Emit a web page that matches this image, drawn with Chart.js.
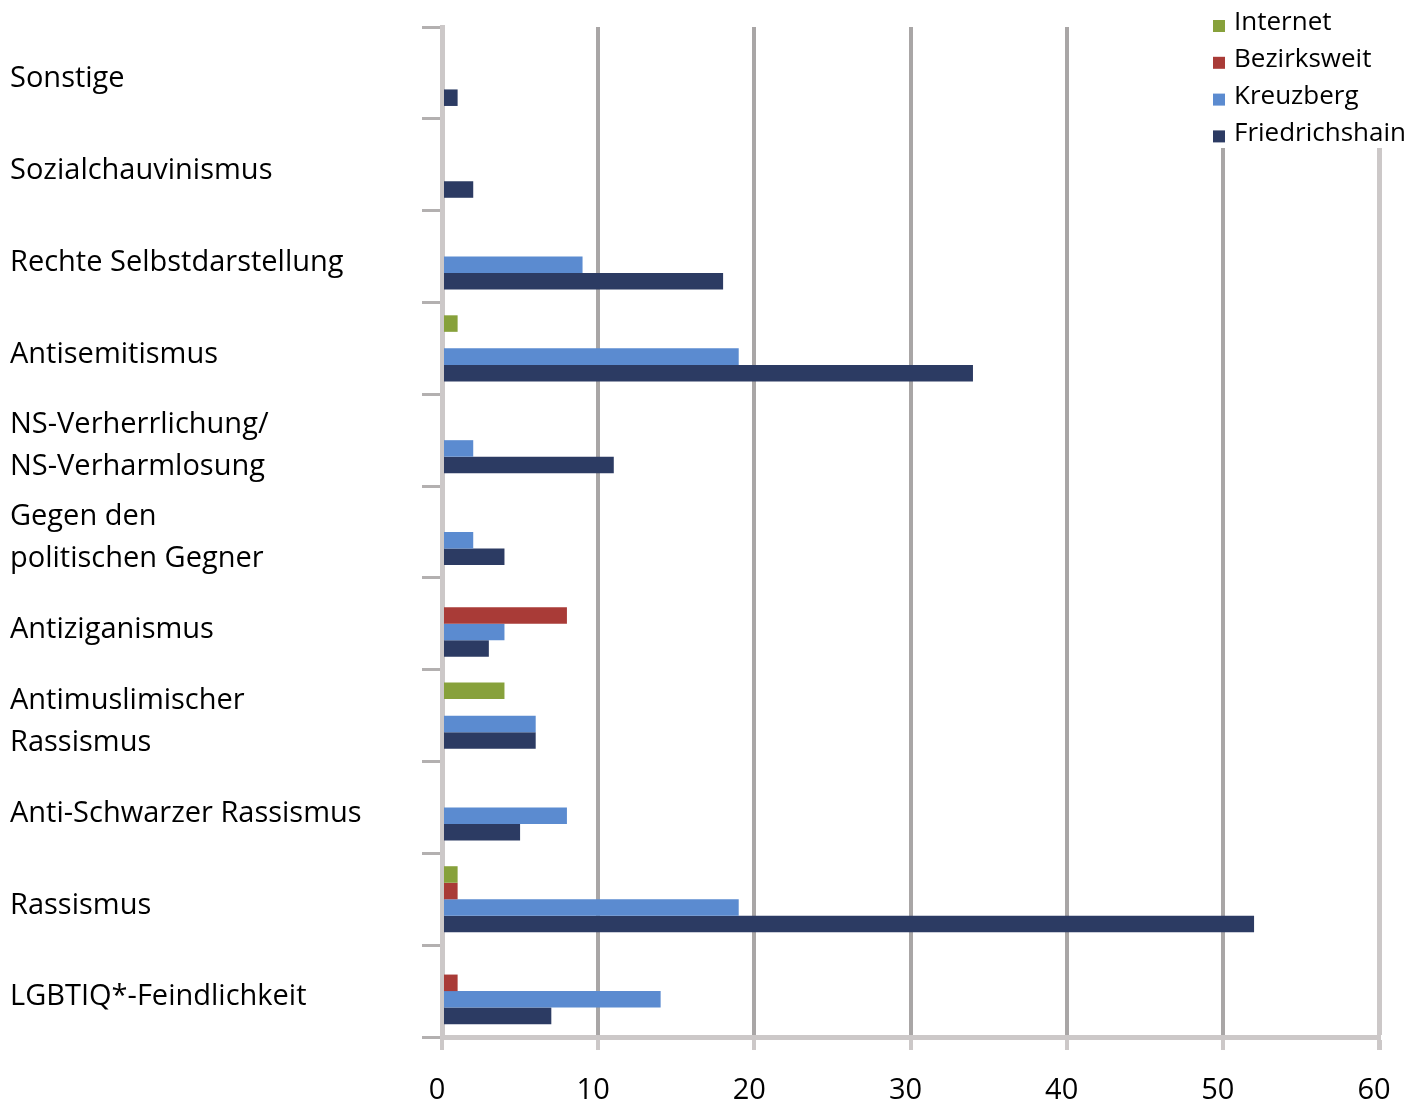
<!DOCTYPE html>
<html lang="de">
<head>
<meta charset="utf-8">
<title>Vorfälle nach Motiv</title>
<script src="https://cdn.jsdelivr.net/npm/chart.js@4"></script>
<style>
  html, body { margin: 0; padding: 0; background: #fff; }
  #wrap { width: 1422px; height: 1108px; }
</style>
</head>
<body>
<div id="wrap"><canvas id="motive" width="1422" height="1108"></canvas></div>
<script>
var categories = [
    'Sonstige',
    'Sozialchauvinismus',
    'Rechte Selbstdarstellung',
    'Antisemitismus',
    ['NS-Verherrlichung/', 'NS-Verharmlosung'],
    ['Gegen den', 'politischen Gegner'],
    'Antiziganismus',
    ['Antimuslimischer', 'Rassismus'],
    'Anti-Schwarzer Rassismus',
    'Rassismus',
    'LGBTIQ*-Feindlichkeit'
];
var internet       = [0, 0, 0, 1, 0, 0, 0, 4, 0, 1, 0];
var bezirksweit    = [0, 0, 0, 0, 0, 0, 8, 0, 0, 1, 1];
var kreuzberg      = [0, 0, 9, 19, 2, 2, 4, 6, 8, 19, 14];
var friedrichshain = [1, 2, 18, 34, 11, 4, 3, 6, 5, 52, 7];
var xTicks = [0, 10, 20, 30, 40, 50, 60];

var FONT = '"Open Sans", Lato, sans-serif';
var gridDark = '#a9a6a6';
var gridLight = '#ccc8c8';

// legend drawn on a white patch over the top right corner
var legendBox = {
    id: 'legendBox',
    afterDraw: function(chart) {
        var c = chart.ctx;
        c.save();
        c.fillStyle = '#fff';
        c.fillRect(1205, 0, 217, 148);
        c.font = '26px ' + FONT;
        c.textBaseline = 'middle';
        c.textAlign = 'left';
        chart.data.datasets.forEach(function(ds, i) {
            var y = 23 + i * 36.8;
            c.fillStyle = ds.backgroundColor;
            c.fillRect(1213, y - 3, 12, 12);
            c.fillStyle = '#000';
            c.fillText(ds.label, 1234, y);
        });
        c.restore();
    }
};

var ctx = document.getElementById('motive').getContext('2d');
var chart = new Chart(ctx, {
    type: 'bar',
    data: {
        labels: categories,
        datasets: [
            { label: 'Internet', data: internet, backgroundColor: '#87a13b' },
            { label: 'Bezirksweit', data: bezirksweit, backgroundColor: '#a93b37' },
            { label: 'Kreuzberg', data: kreuzberg, backgroundColor: '#5b8bd0' },
            { label: 'Friedrichshain', data: friedrichshain, backgroundColor: '#2c3b63' }
        ]
    },
    options: {
        indexAxis: 'y',
        responsive: false,
        animation: false,
        layout: { padding: { top: 27, right: 43, left: 10, bottom: 0 } },
        datasets: {
            bar: { categoryPercentage: 0.72, barPercentage: 1.0 }
        },
        plugins: {
            legend: { display: false },
            tooltip: { enabled: false }
        },
        scales: {
            x: {
                min: 0,
                max: 60,
                afterBuildTicks: function(scale) {
                    scale.ticks = xTicks.map(function(v) { return { value: v }; });
                },
                afterFit: function(scale) { scale.height = 71; },
                border: { display: true, color: gridLight, width: 5 },
                grid: {
                    color: function(c) { return c.tick && c.tick.value === 60 ? gridLight : gridDark; },
                    lineWidth: function(c) { return c.tick && c.tick.value === 60 ? 5 : 4; },
                    tickLength: 13,
                    tickColor: gridLight
                },
                ticks: {
                    color: '#000',
                    font: { family: FONT, size: 29 },
                    padding: 23,
                    labelOffset: -5
                }
            },
            y: {
                afterFit: function(scale) { scale.width = 432; },
                border: { display: true, color: gridLight, width: 5 },
                grid: {
                    drawOnChartArea: false,
                    drawTicks: true,
                    tickLength: 20,
                    tickWidth: 3,
                    tickColor: '#b3b0b0'
                },
                ticks: {
                    color: '#000',
                    crossAlign: 'far',
                    font: { family: FONT, size: 29, lineHeight: 1.45 },
                    padding: 0,
                    labelOffset: 6
                }
            }
        }
    },
    plugins: [legendBox]
});
</script>
</body>
</html>
